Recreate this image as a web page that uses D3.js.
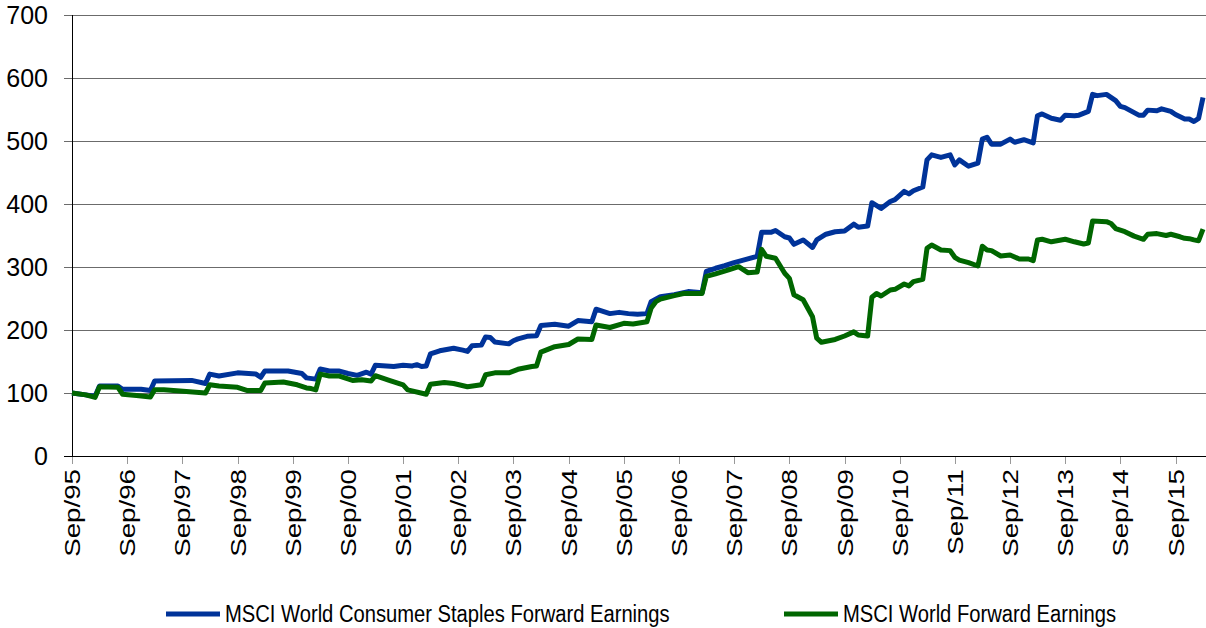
<!DOCTYPE html>
<html>
<head>
<meta charset="utf-8">
<script src="https://cdn.jsdelivr.net/npm/d3@7"></script>
<style>
  body { margin: 0; background: #fff; }
  text { font-family: "Liberation Sans", Arial, sans-serif; fill: #000; }
</style>
</head>
<body>
<svg id="chart" width="1206" height="628"></svg>
<script>
// ---- data (index, Sep/95 = 100) ----
var staplesDates = [
  "1995-09","1995-12","1996-02","1996-03","1996-07","1996-08","1996-12","1997-02","1997-03","1997-11",
  "1998-02","1998-03","1998-05","1998-09","1999-01","1999-02","1999-03","1999-08","1999-11","1999-12",
  "2000-02","2000-03","2000-05","2000-07","2000-09","2000-11","2001-01","2001-02","2001-03","2001-07",
  "2001-09","2001-11","2001-12","2002-01","2002-02","2002-03","2002-05","2002-08","2002-10","2002-11",
  "2002-12","2003-02","2003-03","2003-04","2003-05","2003-08","2003-09","2003-10","2003-12","2004-02",
  "2004-03","2004-06","2004-09","2004-11","2005-02","2005-03","2005-06","2005-08","2005-10","2005-12",
  "2006-02","2006-03","2006-05","2006-08","2006-11","2007-02","2007-03","2007-05","2007-07","2007-09",
  "2007-11","2008-02","2008-03","2008-05","2008-06","2008-08","2008-09","2008-10","2008-12","2009-02",
  "2009-03","2009-05","2009-07","2009-09","2009-11","2009-12","2010-02","2010-03","2010-05","2010-07",
  "2010-08","2010-10","2010-11","2010-12","2011-02","2011-03","2011-04","2011-06","2011-08","2011-09",
  "2011-10","2011-12","2012-02","2012-03","2012-04","2012-05","2012-07","2012-09","2012-10","2012-12",
  "2013-02","2013-03","2013-04","2013-06","2013-08","2013-09","2013-11","2013-12","2014-02","2014-03",
  "2014-04","2014-06","2014-08","2014-09","2014-10","2015-01","2015-02","2015-03","2015-05","2015-06",
  "2015-08","2015-09","2015-11","2015-12","2016-01","2016-02","2016-03"
];
var staplesValues = [
  100, 97, 95, 111, 111, 106, 106, 104, 119, 120,
  115, 130, 127, 132, 130, 125, 135, 135, 131, 124,
  122, 138, 135, 135, 131, 128, 133, 130, 144, 142,
  144, 143, 145, 142, 143, 162, 167, 171, 168, 166,
  175, 176, 189, 188, 181, 178, 183, 186, 190, 191,
  207, 209, 206, 215, 213, 233, 226, 228, 226, 225,
  226, 245, 253, 256, 261, 259, 293, 298, 302, 307,
  311, 317, 355, 355, 358, 348, 346, 336, 343, 331,
  343, 352, 356, 357, 368, 363, 365, 402, 393, 404,
  407, 420, 416, 421, 427, 470, 478, 474, 478, 462,
  470, 460, 465, 503, 506, 495, 495, 503, 498, 502,
  497, 540, 543, 536, 533, 541, 540, 541, 547, 574,
  572, 574, 564, 555, 553, 541, 541, 549, 548, 551,
  547, 542, 535, 535, 531, 536, 569
];

var worldDates = [
  "1995-09","1995-12","1996-02","1996-03","1996-07","1996-08","1996-11","1997-02","1997-03","1997-05",
  "1998-02","1998-03","1998-05","1998-09","1998-11","1999-02","1999-03","1999-07","1999-10","1999-12",
  "2000-01","2000-02","2000-03","2000-05","2000-07","2000-10","2000-12","2001-02","2001-03","2001-06",
  "2001-09","2001-10","2002-02","2002-03","2002-06","2002-08","2002-11","2003-02","2003-03","2003-05",
  "2003-08","2003-10","2004-01","2004-02","2004-03","2004-06","2004-09","2004-11","2005-02","2005-03",
  "2005-06","2005-09","2005-11","2006-02","2006-03","2006-04","2006-05","2006-08","2006-10","2007-02",
  "2007-03","2007-05","2007-08","2007-10","2007-12","2008-02","2008-03","2008-04","2008-06","2008-08",
  "2008-09","2008-10","2008-12","2009-02","2009-03","2009-04","2009-07","2009-09","2009-11","2009-12",
  "2010-02","2010-03","2010-04","2010-05","2010-07","2010-08","2010-10","2010-11","2010-12","2011-02",
  "2011-03","2011-04","2011-06","2011-08","2011-09","2011-10","2011-12","2012-02","2012-03","2012-04",
  "2012-05","2012-07","2012-09","2012-11","2013-01","2013-02","2013-03","2013-04","2013-06","2013-09",
  "2013-11","2014-01","2014-02","2014-03","2014-06","2014-07","2014-08","2014-10","2014-12","2015-02",
  "2015-03","2015-05","2015-07","2015-08","2015-10","2015-11","2015-12","2016-01","2016-02","2016-03"
];
var worldValues = [
  100, 97, 93, 110, 109, 98, 96, 93.5, 105, 105,
  100, 113, 111, 109, 104, 104, 116, 117.5, 113, 108,
  107, 105, 130, 127, 127, 120, 121, 119, 127.5, 120,
  113, 105, 98, 114, 116.5, 115, 110, 113, 129, 132,
  132, 137.6, 142, 143, 165, 173.5, 177, 185.7, 185, 208,
  204, 210.6, 209.5, 213, 235, 245, 249, 254.5, 258, 258,
  285, 289, 296, 300.5, 291, 292, 328, 317, 314, 290,
  282, 256, 248, 221, 187, 180.5, 185, 190.5, 197, 192,
  190.5, 252, 258, 254, 263.5, 264.6, 273, 270, 276.7, 280.4,
  329.6, 335, 327, 326, 315.4, 311, 306.8, 301.6, 333, 327,
  326, 317.5, 319, 312.7, 312.7, 310, 343, 344, 340, 344,
  340, 336.5, 338, 373, 372, 369, 361, 356, 349, 344,
  352, 353, 350, 352, 348, 345.5, 345, 343, 341.7, 360
];

var xTickLabels = ["Sep/95","Sep/96","Sep/97","Sep/98","Sep/99","Sep/00","Sep/01","Sep/02","Sep/03","Sep/04",
                   "Sep/05","Sep/06","Sep/07","Sep/08","Sep/09","Sep/10","Sep/11","Sep/12","Sep/13","Sep/14","Sep/15"];
var yTicks = [0, 100, 200, 300, 400, 500, 600, 700];
var seriesNames = ["MSCI World Consumer Staples Forward Earnings", "MSCI World Forward Earnings"];
var seriesColors = ["#003399", "#006600"];

var parseMonth = d3.timeParse("%Y-%m"),
    parseTick = d3.timeParse("%b/%y");

var svg = d3.select("#chart");
var width = 1206;

var x = d3.scaleTime()
    .domain([parseMonth("1995-09"), parseMonth("2016-03")])
    .range([72, 1203]);
var y = d3.scaleLinear()
    .domain([0, 700])
    .range([456, 15]);

// gridlines
svg.append("g")
    .selectAll("line")
    .data(yTicks.filter(function(d) { return d > 0; }))
  .enter().append("line")
    .attr("x1", 64)
    .attr("x2", width)
    .attr("y1", function(d) { return Math.round(y(d)) + 0.5; })
    .attr("y2", function(d) { return Math.round(y(d)) + 0.5; })
    .attr("stroke", "#6b6b6b")
    .attr("stroke-width", 1);

// y tick labels
svg.append("g")
    .selectAll("text")
    .data(yTicks)
  .enter().append("text")
    .attr("x", 48)
    .attr("y", function(d) { return y(d) + 9; })
    .attr("text-anchor", "end")
    .style("font-size", "25px")
    .text(function(d) { return d; });

// x ticks
var xTicks = svg.append("g");
xTicks.selectAll("line")
    .data(xTickLabels)
  .enter().append("line")
    .attr("x1", function(d) { return Math.round(x(parseTick(d))) + 0.5; })
    .attr("x2", function(d) { return Math.round(x(parseTick(d))) + 0.5; })
    .attr("y1", 456)
    .attr("y2", 464)
    .attr("stroke", "#999")
    .attr("stroke-width", 1);

xTicks.selectAll("text")
    .data(xTickLabels)
  .enter().append("text")
    .attr("transform", function(d) {
      return "translate(" + (x(parseTick(d)) + 8) + ",469) rotate(-90) scale(1.26,1)";
    })
    .attr("text-anchor", "end")
    .style("font-size", "22px")
    .text(function(d) { return d; });

// axes lines
svg.append("line")
    .attr("x1", 72.5).attr("x2", 72.5)
    .attr("y1", 15).attr("y2", 456)
    .attr("stroke", "#000");
svg.append("line")
    .attr("x1", 64).attr("x2", width)
    .attr("y1", 456.5).attr("y2", 456.5)
    .attr("stroke", "#000");

// the two lines
var line = d3.line()
    .x(function(d) { return x(d.date); })
    .y(function(d) { return y(d.value); });

function toPoints(dates, values) {
  return dates.map(function(d, i) { return { date: parseMonth(d), value: values[i] }; });
}

var series = [toPoints(staplesDates, staplesValues), toPoints(worldDates, worldValues)];

svg.append("g")
    .selectAll("path")
    .data(series)
  .enter().append("path")
    .attr("d", line)
    .attr("fill", "none")
    .attr("stroke", function(d, i) { return seriesColors[i]; })
    .attr("stroke-width", 5)
    .attr("stroke-linejoin", "round");

// legend
var legendX = [166, 784];
var legend = svg.append("g")
    .selectAll("g")
    .data(seriesNames)
  .enter().append("g")
    .attr("transform", function(d, i) { return "translate(" + legendX[i] + ",614)"; });

legend.append("line")
    .attr("x1", 0).attr("x2", 54)
    .attr("y1", 0).attr("y2", 0)
    .attr("stroke", function(d, i) { return seriesColors[i]; })
    .attr("stroke-width", 5);

legend.append("text")
    .attr("transform", "translate(59,0) scale(0.98,1.12)")
    .attr("y", 7)
    .style("font-size", "20.6px")
    .text(function(d) { return d; });
</script>
</body>
</html>
